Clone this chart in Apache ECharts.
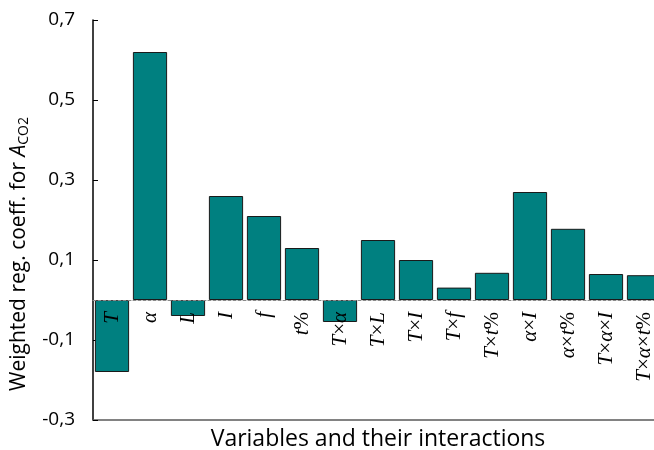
<!DOCTYPE html>
<html>
<head>
<meta charset="utf-8">
<script src="https://cdn.jsdelivr.net/npm/echarts@6/dist/echarts.min.js"></script>
<style>
  html, body { margin: 0; padding: 0; background: #fff; }
  #chart { width: 654px; height: 450px; }
</style>
</head>
<body>
<div id="chart"></div>
<script>
// Variables and interaction terms
const categories = ['T', 'α', 'L', 'I', 'f', 't%', 'T×α', 'T×L', 'T×I', 'T×f', 'T×t%', 'α×I', 'α×t%', 'T×α×I', 'T×α×t%'];
// Weighted regression coefficients for A_CO2
const coefficients = [-0.18, 0.62, -0.04, 0.26, 0.21, 0.13, -0.055, 0.15, 0.10, 0.031, 0.068, 0.27, 0.178, 0.065, 0.062];
// Labelled y ticks
const yTicks = [-0.3, -0.1, 0.1, 0.3, 0.5, 0.7];

// Letters in italic, symbols upright
function styleLabel(s) {
  return Array.from(s).map(ch => (/[A-Za-zα]/.test(ch) ? '{i|' + ch + '}' : '{n|' + ch + '}')).join('');
}

const chart = echarts.init(document.getElementById('chart'), null, { renderer: 'canvas' });

function buildOption(zeroOffset) {
  return {
    animation: false,
    backgroundColor: '#ffffff',
    grid: { left: 93, top: 20, width: 570, bottom: 30, containLabel: false, outerBoundsMode: 'none' },
    xAxis: [
      {
        // category labels sitting on the zero line, drawn over the bars
        type: 'category',
        data: categories,
        position: 'bottom',
        offset: zeroOffset,
        z: 5,
        axisLine: { onZero: false, lineStyle: { color: '#8a8a8a', width: 1, type: [3, 2] } },
        axisTick: { show: false },
        axisLabel: {
          rotate: 90,
          margin: 12,
          interval: 0,
          formatter: v => styleLabel(v),
          rich: {
            i: { fontFamily: 'Liberation Serif', fontStyle: 'italic', fontSize: 21, color: '#000' },
            n: { fontFamily: 'Liberation Serif', fontSize: 21, color: '#000' }
          }
        },
        splitLine: { show: false }
      },
      {
        // frame line at the bottom of the plot
        type: 'category',
        data: categories,
        position: 'bottom',
        axisLine: { onZero: false, lineStyle: { color: '#595959', width: 1.5 } },
        axisTick: { show: false },
        axisLabel: { show: false },
        name: 'Variables and their interactions',
        nameLocation: 'middle',
        nameGap: 8,
        nameTextStyle: { fontFamily: 'Open Sans', fontSize: 23, color: '#000' }
      }
    ],
    yAxis: {
      type: 'value',
      min: -0.3,
      max: 0.7,
      interval: 0.1,
      axisLine: { show: true, lineStyle: { color: '#000', width: 1.5 } },
      axisTick: { show: true, inside: true, length: 5, customValues: yTicks, lineStyle: { color: '#000' } },
      axisLabel: {
        customValues: yTicks,
        margin: 18,
        fontFamily: 'Open Sans',
        fontSize: 19,
        color: '#000',
        formatter: v => v.toFixed(1).replace('.', ',')
      },
      splitLine: { show: false },
      name: '{n|Weighted reg. coeff. for }{i|A}{s|CO2}',
      nameLocation: 'middle',
      nameGap: 55,
      nameTextStyle: {
        padding: [0, 68, 0, 0],
        rich: {
          n: { fontFamily: 'Open Sans', fontSize: 21, color: '#000' },
          i: { fontFamily: 'Open Sans', fontStyle: 'italic', fontSize: 21, color: '#000' },
          s: { fontFamily: 'Open Sans', fontSize: 14, color: '#000', padding: [10, 0, 0, 0] }
        }
      }
    },
    series: [{
      type: 'bar',
      data: coefficients,
      barCategoryGap: '10%',
      itemStyle: { color: '#008080', borderColor: '#1a1a1a', borderWidth: 1 },
      xAxisIndex: 0
    }]
  };
}

chart.setOption(buildOption(0));
// lift the label axis from the plot bottom up to y = 0
const yZero = chart.convertToPixel({ yAxisIndex: 0 }, 0);
const yBottom = chart.convertToPixel({ yAxisIndex: 0 }, -0.3);
chart.setOption(buildOption(yZero - yBottom));
</script>
</body>
</html>
